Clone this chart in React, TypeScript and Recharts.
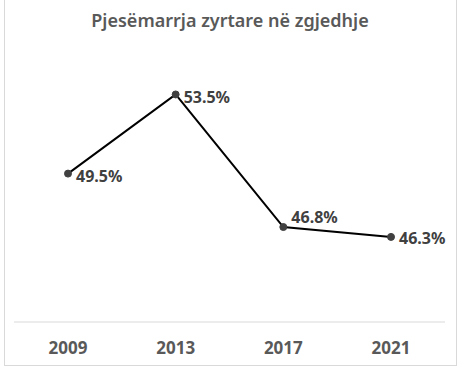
import { LineChart, Line, XAxis, YAxis, LabelList } from "recharts"

const years = ["2009", "2013", "2017", "2021"]
const turnout = [49.5, 53.5, 46.8, 46.3]
const title = "Pjesëmarrja zyrtare në zgjedhje"

// label nudges, the 2017 one sits above the line like in the original
const labelDy = [3, 3, -10, 1]

const data = years.map((y, i) => ({ year: y, value: turnout[i] }))

const PctLabel = (p: any) => {
    const { x, y, value, index } = p
    return (
        <text x={x + 8} y={y + (labelDy[index] ?? 0)} dy="0.35em" textAnchor="start"
            fill="#404040" fontSize={16} fontWeight={700}>
            {`${Number(value).toFixed(1)}%`}
        </text>
    )
}

export default function App() {
    return (
        <div style={{ position: "absolute", left: 0, top: 0, width: 460, height: 367, background: "#fff", fontFamily: "'Noto Sans', sans-serif" }}>
            <div style={{ position: "absolute", left: 4, top: -1, width: 451, height: 365, border: "1px solid #d9d9d9" }} />
            <div style={{ position: "absolute", left: 0, top: 11, width: 460, textAlign: "center", fontSize: 18, lineHeight: "18px", fontWeight: 600, color: "#595959" }}>
                {title}
            </div>
            <LineChart width={460} height={367} data={data} margin={{ top: 45, right: 15, bottom: 0, left: 14 }} style={{ position: "absolute", left: 0, top: 0 }}>
                <XAxis dataKey="year" height={45} padding={{ left: 54, right: 54 }} tickLine={false}
                    axisLine={{ stroke: "#d9d9d9" }} tickMargin={14}
                    tick={{ fill: "#595959", fontSize: 17, fontWeight: 700 }} />
                <YAxis hide domain={[42, 56]} />
                <Line dataKey="value" stroke="#000" strokeWidth={2} isAnimationActive={false}
                    dot={{ r: 3.5, fill: "#404040", stroke: "#404040", strokeWidth: 1 }}>
                    <LabelList dataKey="value" content={PctLabel} />
                </Line>
            </LineChart>
        </div>
    )
}
